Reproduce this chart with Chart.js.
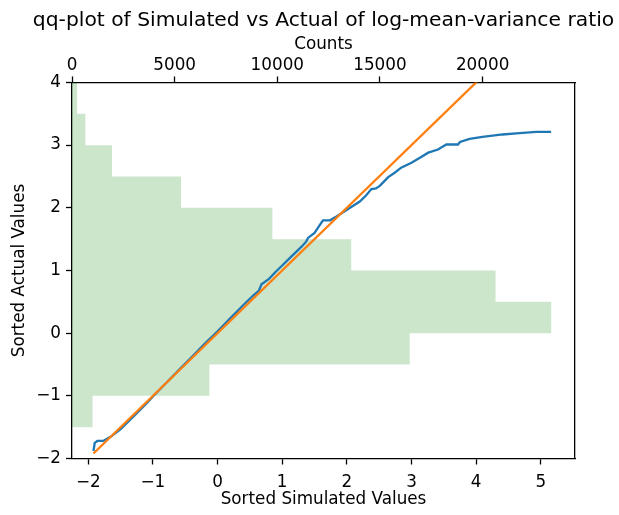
<!DOCTYPE html>
<html><head><meta charset="utf-8">
<script src="https://cdn.jsdelivr.net/npm/chart.js@4/dist/chart.umd.min.js"></script>
<style>html,body{margin:0;padding:0;background:#fff}#wrap{width:619px;height:515px}</style>
</head><body><div id="wrap"><canvas id="c" width="619" height="515"></canvas></div>
<script>
// ---- data ----
const simulatedSorted = [-1.92, -1.90, -1.86, -1.77, -1.65, -1.50, -1.30, -1.10, -1.00, -0.80, -0.60, -0.40, -0.20, 0.00, 0.20, 0.40, 0.55, 0.64, 0.68, 0.80, 0.90, 1.00, 1.10, 1.20, 1.30, 1.37, 1.40, 1.50, 1.63, 1.74, 1.84, 2.05, 2.20, 2.30, 2.38, 2.45, 2.51, 2.64, 2.74, 2.84, 3.00, 3.13, 3.26, 3.41, 3.54, 3.72, 3.75, 3.90, 4.10, 4.41, 4.67, 4.93, 5.16];
const actualSorted    = [-1.88, -1.75, -1.72, -1.72, -1.65, -1.53, -1.33, -1.12, -1.01, -0.80, -0.59, -0.38, -0.17, 0.03, 0.24, 0.45, 0.60, 0.68, 0.78, 0.87, 0.98, 1.08, 1.18, 1.28, 1.38, 1.46, 1.52, 1.60, 1.80, 1.80, 1.86, 2.00, 2.10, 2.20, 2.30, 2.31, 2.35, 2.49, 2.56, 2.64, 2.72, 2.80, 2.88, 2.93, 3.01, 3.01, 3.05, 3.10, 3.13, 3.17, 3.19, 3.21, 3.21];
const referenceLine   = [-1.92, 5.16];
const binEdges  = [-1.5, -1, -0.5, 0, 0.5, 1, 1.5, 2, 2.5, 3, 3.5, 4];
const binCounts = [1000, 6690, 16450, 23340, 20630, 13600, 9760, 5310, 1950, 650, 250];
const xTicks = [-2, -1, 0, 1, 2, 3, 4, 5];
const yTicks = [-2, -1, 0, 1, 2, 3, 4];
const countTicks = [0, 5000, 10000, 15000, 20000];
const titleText = 'qq-plot of Simulated vs Actual of log-mean-variance ratio';
const xLabel = 'Sorted Simulated Values';
const yLabel = 'Sorted Actual Values';
const countLabel = 'Counts';

// ---- build datasets ----
const qqPoints = simulatedSorted.map((v, i) => ({x: v, y: actualSorted[i]}));
const refPoints = referenceLine.map(v => ({x: v, y: v}));
const histPoints = [{x: 0, y: binEdges[0]}];
binCounts.forEach((c, i) => { histPoints.push({x: c, y: binEdges[i]}); histPoints.push({x: c, y: binEdges[i + 1]}); });
histPoints.push({x: 0, y: binEdges[binEdges.length - 1]});

const FONT = 'DejaVu Sans';
const tickFont = {family: FONT, size: 16.8};
const minus = v => String(v).replace('-', '\u2212');
const setTicks = list => s => { s.ticks = list.map(v => ({value: v})); };
const axisCommon = {
  grid: {drawOnChartArea: false, drawTicks: true, tickLength: 6, tickColor: '#000', tickWidth: 1.3},
  border: {display: true, color: '#000', width: 1.3}
};

new Chart(document.getElementById('c'), {
  type: 'line',
  data: {
    datasets: [
      {data: refPoints, borderColor: '#ff7f0e', borderWidth: 2.3, pointRadius: 0, fill: false, xAxisID: 'x', yAxisID: 'y'},
      {data: qqPoints, borderColor: '#1f77b4', borderWidth: 2.3, pointRadius: 0, fill: false, xAxisID: 'x', yAxisID: 'y'},
      {data: histPoints, borderWidth: 0, borderColor: 'rgba(0,0,0,0)', backgroundColor: 'rgba(0,128,0,0.2)', pointRadius: 0, fill: 'shape', xAxisID: 'x2', yAxisID: 'y'}
    ]
  },
  options: {
    responsive: false,
    animation: false,
    devicePixelRatio: 1,
    layout: {padding: {left: 28, right: 0, top: 0, bottom: 0}},
    plugins: {
      legend: {display: false},
      tooltip: {enabled: false},
      title: {display: true, text: titleText, color: '#000', font: {family: FONT, size: 20.3, weight: 'normal'}, padding: {top: 9, bottom: 0}, fullSize: true}
    },
    scales: {
      x: Object.assign({}, axisCommon, {
        type: 'linear', position: 'bottom', min: -2.252, max: 5.53,
        afterBuildTicks: setTicks(xTicks),
        ticks: {color: '#000', font: tickFont, padding: 8.2, callback: minus},
        title: {display: true, text: xLabel, color: '#000', font: tickFont, padding: {top: 0, bottom: 4.9}},
        afterFit: s => { s.height = 56.5; }
      }),
      x2: Object.assign({}, axisCommon, {
        type: 'linear', position: 'top', min: 0, max: 24500,
        afterBuildTicks: setTicks(countTicks),
        ticks: {color: '#000', font: tickFont, padding: 1.1, callback: v => String(v)},
        title: {display: true, text: countLabel, color: '#000', font: tickFont, padding: {top: 1.5, bottom: 0}},
        afterFit: s => { s.height = 49.1; }
      }),
      y: Object.assign({}, axisCommon, {
        type: 'linear', position: 'left', min: -2, max: 4,
        afterBuildTicks: setTicks(yTicks),
        ticks: {color: '#000', font: tickFont, padding: 5, callback: minus},
        title: {display: true, text: yLabel, color: '#000', font: tickFont, padding: {top: -18, bottom: 0}},
        afterFit: s => { s.width = 44; }
      }),
      y2: {
        type: 'linear', position: 'right', min: -2, max: 4,
        ticks: {display: false},
        grid: {drawOnChartArea: false, drawTicks: false},
        border: {display: true, color: '#000', width: 1.3},
        afterFit: s => { s.width = 44; }
      }
    }
  }
});
</script></body></html>
